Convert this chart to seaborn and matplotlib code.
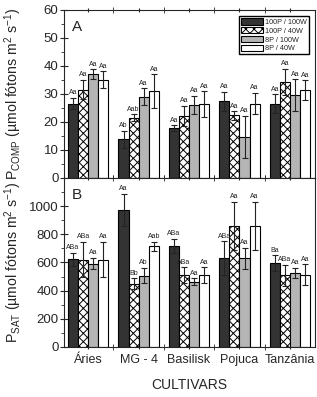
import seaborn as sns
import pandas as pd
import matplotlib.pyplot as plt
from matplotlib.ticker import MultipleLocator, FixedLocator

# Dados
cultivares = ["Áries", "MG - 4", "Basilisk", "Pojuca", "Tanzânia"]
tratamentos = ["100P / 100W", "100P / 40W", "8P / 100W", "8P / 40W"]

# P_COMP (A) - valores por tratamento, na ordem dos cultivares
pcomp = {
    "100P / 100W": [26.5, 13.8, 17.8, 27.3, 26.5],
    "100P / 40W": [31.5, 21.5, 22.2, 22.3, 34.3],
    "8P / 100W": [37.0, 29.0, 26.0, 14.7, 29.5],
    "8P / 40W": [35.0, 31.0, 26.3, 26.5, 31.3],
}
pcomp_err = {
    "100P / 100W": [2.0, 3.0, 1.0, 3.5, 3.3],
    "100P / 40W": [3.5, 1.2, 3.5, 1.5, 4.6],
    "8P / 100W": [1.8, 3.0, 3.3, 7.5, 5.7],
    "8P / 40W": [3.0, 6.0, 4.6, 3.8, 3.5],
}
pcomp_let = {
    "100P / 100W": ["Aa", "Ab", "Aa", "Aa", "Aa"],
    "100P / 40W": ["Aa", "Aab", "Aa", "Aa", "Aa"],
    "8P / 100W": ["Aa", "Aa", "Aa", "Aa", "Aa"],
    "8P / 40W": ["Aa", "Aa", "Aa", "Aa", "Aa"],
}

# P_SAT (B)
psat = {
    "100P / 100W": [623, 972, 716, 630, 595],
    "100P / 40W": [620, 448, 509, 858, 510],
    "8P / 100W": [590, 507, 462, 628, 527],
    "8P / 40W": [620, 713, 509, 858, 512],
}
psat_err = {
    "100P / 100W": [45, 113, 50, 120, 55],
    "100P / 40W": [125, 38, 55, 173, 75],
    "8P / 100W": [40, 55, 25, 75, 35],
    "8P / 40W": [125, 35, 55, 173, 75],
}
psat_let = {
    "100P / 100W": ["ABa", "Aa", "ABa", "ABa", "Ba"],
    "100P / 40W": ["ABa", "Bb", "ABa", "Aa", "ABa"],
    "8P / 100W": ["Aa", "Ab", "Aa", "Aa", "Aa"],
    "8P / 40W": ["Aa", "Aab", "Aa", "Aa", "Aa"],
}

cores = ["#333333", "white", "#b5b5b5", "white"]

sns.set_style("ticks")
plt.rcParams["font.family"] = ["Liberation Sans", "DejaVu Sans"]
plt.rcParams["hatch.linewidth"] = 0.7
plt.rcParams["axes.linewidth"] = 0.8


def tabela(d):
    linhas = []
    for t in tratamentos:
        for c, v in zip(cultivares, d[t]):
            linhas.append({"cultivar": c, "trat": t, "valor": v})
    return pd.DataFrame(linhas)


def painel(ax, dados, erros, letras, pad):
    sns.barplot(data=tabela(dados), x="cultivar", y="valor", hue="trat",
                order=cultivares, hue_order=tratamentos, palette=cores,
                errorbar=None, edgecolor="black", linewidth=0.8, width=0.8,
                saturation=1, legend=False, ax=ax)
    for i, t in enumerate(tratamentos):
        cont = ax.containers[i]
        for j, barra in enumerate(cont):
            if i == 1:
                barra.set_hatch("xxxx")
            x = barra.get_x() + barra.get_width() / 2
            y = barra.get_height()
            ax.errorbar(x, y, yerr=erros[t][j], color="#222222", lw=0.8,
                        capsize=2, capthick=0.8)
            ax.text(x, y + erros[t][j] + pad, letras[t][j], ha="center",
                    va="bottom", fontsize=5, color="#222222")
    ax.set_xlim(-0.48, 4.5)
    ax.set_xlabel("")
    ax.xaxis.set_minor_locator(FixedLocator([0.5, 1.5, 2.5, 3.5]))
    ax.tick_params(axis="x", which="major", direction="inout", length=3,
                   top=True, labelsize=9)
    ax.tick_params(axis="x", which="minor", direction="inout", length=4,
                   top=True)
    ax.tick_params(axis="y", which="major", direction="inout", length=6,
                   labelsize=9.5, pad=1)
    ax.tick_params(axis="y", which="minor", direction="out", length=2.5)
    for s in ax.spines.values():
        s.set_visible(True)


fig = plt.figure(figsize=(3.17, 3.97), dpi=100)
axA = fig.add_axes([0.202, 0.552, 0.792, 0.423])
axB = fig.add_axes([0.202, 0.126, 0.792, 0.426])

painel(axA, pcomp, pcomp_err, pcomp_let, 0.6)
axA.set_ylim(0, 60)
axA.yaxis.set_major_locator(MultipleLocator(10))
axA.yaxis.set_minor_locator(MultipleLocator(5))
axA.set_xticklabels([])
axA.set_ylabel(r"P$\mathregular{_{COMP}}$ (µmol fótons m$\mathregular{^2}$ s$\mathregular{^{-1}}$)",
               fontsize=10.2)
axA.yaxis.set_label_coords(-0.16, 0.5)
axA.text(0.03, 0.9, "A", transform=axA.transAxes, fontsize=11, va="center")
axA.legend(axA.containers[:4], tratamentos, loc="upper right", fontsize=5.2,
           fancybox=False, edgecolor="black", framealpha=1,
           handlelength=3.0, handleheight=1.0, labelspacing=0.15,
           handletextpad=0.3, borderpad=0.3, bbox_to_anchor=(0.99, 0.985))

painel(axB, psat, psat_err, psat_let, 12)
axB.set_ylim(0, 1200)
axB.yaxis.set_major_locator(FixedLocator([0, 200, 400, 600, 800, 1000]))
axB.yaxis.set_minor_locator(MultipleLocator(100))
axB.set_ylabel(r"P$\mathregular{_{SAT}}$ (µmol fótons m$\mathregular{^2}$ s$\mathregular{^{-1}}$)",
               fontsize=10.2)
axB.yaxis.set_label_coords(-0.16, 0.5)
axB.text(0.03, 0.9, "B", transform=axB.transAxes, fontsize=11, va="center")
axB.set_xlabel("CULTIVARS", fontsize=10, labelpad=9)

fig.savefig("out.png", dpi=100)
plt.close(fig)
